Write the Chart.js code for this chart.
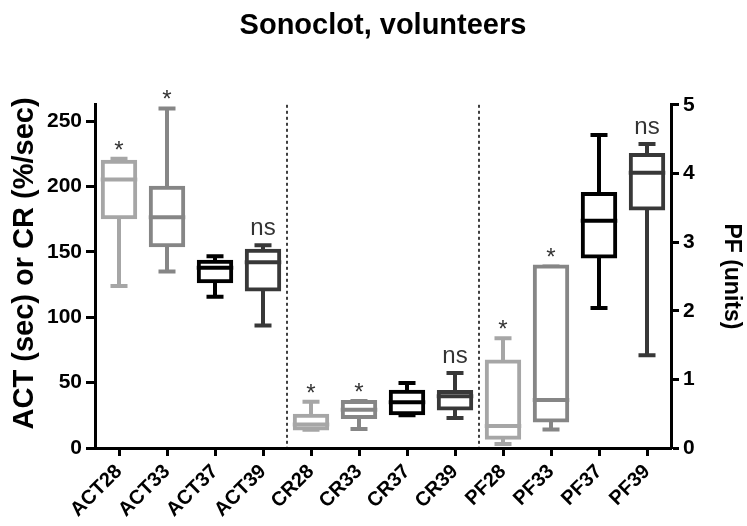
<!DOCTYPE html>
<html>
<head>
<meta charset="utf-8">
<script src="https://cdn.jsdelivr.net/npm/chart.js@4"></script>
<style>
html,body{margin:0;padding:0;background:#fff}
#wrap{width:747px;height:526px}
</style>
</head>
<body>
<div id="wrap"><canvas id="c" width="747" height="526"></canvas></div>
<script>
// ---- data ----
const categories  = ['ACT28','ACT33','ACT37','ACT39','CR28','CR33','CR37','CR39','PF28','PF33','PF37','PF39'];
const whiskerLow  = [124.0, 135.0, 115.6,  93.6, 14.0, 14.5, 25.0, 23.0, 0.06, 0.27, 2.04, 1.35];
const quartile1   = [176.5, 155.0, 127.5, 121.2, 15.0, 23.7, 26.5, 30.3, 0.15, 0.40, 2.79, 3.49];
const median      = [205.4, 176.5, 137.8, 142.1, 18.0, 29.3, 35.0, 39.5, 0.32, 0.70, 3.31, 4.01];
const quartile3   = [218.9, 199.0, 142.4, 150.8, 24.7, 35.2, 43.0, 42.9, 1.26, 2.645, 3.70, 4.27];
const whiskerHigh = [221.2, 259.7, 146.7, 155.1, 35.4, 36.0, 49.7, 57.4, 1.60, 2.645, 4.56, 4.43];
const significance = ['*','*','','ns','*','*','','ns','*','*','','ns'];
const boxColors = ['#a6a6a6','#868686','#000000','#383838',
                   '#a6a6a6','#868686','#000000','#383838',
                   '#a6a6a6','#868686','#000000','#383838'];
const leftAxisTitle  = 'ACT (sec) or CR (%/sec)';
const rightAxisTitle = 'PF (units)';
const chartTitle = 'Sonoclot, volunteers';

const groupOf = categories.map(c => c.replace(/\d+$/, ''));
const axisOf  = groupOf.map(g => g === 'PF' ? 'y2' : 'y');
const FONT = "'Liberation Sans', Arial, sans-serif";

Chart.defaults.font.family = FONT;
Chart.defaults.color = '#000';

const boxParts = {
  id: 'boxParts',
  beforeDatasetsDraw(chart) {
    const ctx = chart.ctx, xs = chart.scales.x;
    ctx.save();
    ctx.lineWidth = 4;
    ctx.lineCap = 'butt';
    categories.forEach((c, i) => {
      const ys = chart.scales[axisOf[i]];
      const x = xs.getPixelForValue(i);
      const pMin = ys.getPixelForValue(whiskerLow[i]);
      const pQ1 = ys.getPixelForValue(quartile1[i]);
      const pQ3 = ys.getPixelForValue(quartile3[i]);
      const pMax = ys.getPixelForValue(whiskerHigh[i]);
      ctx.strokeStyle = boxColors[i];
      ctx.beginPath();
      ctx.moveTo(x, pQ3); ctx.lineTo(x, pMax);
      ctx.moveTo(x, pQ1); ctx.lineTo(x, pMin);
      ctx.stroke();
      ctx.beginPath();
      ctx.moveTo(x - 8.5, pMax); ctx.lineTo(x + 8.5, pMax);
      ctx.moveTo(x - 8.5, pMin); ctx.lineTo(x + 8.5, pMin);
      ctx.stroke();
    });
    ctx.restore();
  },
  afterDatasetsDraw(chart) {
    const ctx = chart.ctx, xs = chart.scales.x, area = chart.chartArea;
    ctx.save();
    // medians
    ctx.lineWidth = 4;
    categories.forEach((c, i) => {
      const ys = chart.scales[axisOf[i]];
      const meta = chart.getDatasetMeta(axisOf[i] === 'y' ? 0 : 1);
      const bar = meta.data[i];
      const x = xs.getPixelForValue(i);
      const half = bar.width / 2 + 2;
      const pMed = ys.getPixelForValue(median[i]);
      ctx.strokeStyle = boxColors[i];
      ctx.beginPath();
      ctx.moveTo(x - half, pMed); ctx.lineTo(x + half, pMed);
      ctx.stroke();
    });
    // group separators
    ctx.strokeStyle = '#000';
    ctx.lineWidth = 1.5;
    ctx.setLineDash([3, 3]);
    for (let i = 1; i < categories.length; i++) {
      if (groupOf[i] !== groupOf[i - 1]) {
        const x = (xs.getPixelForValue(i - 1) + xs.getPixelForValue(i)) / 2;
        ctx.beginPath();
        ctx.moveTo(x, area.top); ctx.lineTo(x, area.bottom);
        ctx.stroke();
      }
    }
    ctx.setLineDash([]);
    // significance labels
    ctx.textAlign = 'center';
    ctx.textBaseline = 'alphabetic';
    ctx.fillStyle = '#333';
    ctx.font = '24px ' + FONT;
    categories.forEach((c, i) => {
      const s = significance[i];
      if (!s) return;
      const ys = chart.scales[axisOf[i]];
      const x = xs.getPixelForValue(i);
      const pMax = ys.getPixelForValue(whiskerHigh[i]);
      ctx.fillText(s, x, s === '*' ? pMax - 1 : pMax - 10);
    });
    ctx.restore();
  },
  afterDraw(chart) {
    // left axis title, placed slightly above the plot centre as in the reference
    const ctx = chart.ctx, area = chart.chartArea;
    ctx.save();
    ctx.translate(25, (area.top + area.bottom) / 2 - 13);
    ctx.rotate(-Math.PI / 2);
    ctx.font = 'bold 29px ' + FONT;
    ctx.fillStyle = '#000';
    ctx.textAlign = 'center';
    ctx.textBaseline = 'middle';
    ctx.fillText(leftAxisTitle, 0, 0);
    ctx.restore();
  }
};

const barCommon = {
  backgroundColor: '#ffffff',
  borderColor: boxColors,
  borderWidth: 4,
  borderSkipped: false,
  inflateAmount: 2,
  grouped: false,
  barPercentage: 0.676,
  categoryPercentage: 1
};

new Chart(document.getElementById('c'), {
  type: 'bar',
  data: {
    labels: categories,
    datasets: [
      Object.assign({
        label: 'ACT / CR',
        yAxisID: 'y',
        data: categories.map((c, i) => axisOf[i] === 'y' ? [quartile1[i], quartile3[i]] : null)
      }, barCommon),
      Object.assign({
        label: 'PF',
        yAxisID: 'y2',
        data: categories.map((c, i) => axisOf[i] === 'y2' ? [quartile1[i], quartile3[i]] : null)
      }, barCommon)
    ]
  },
  options: {
    responsive: false,
    animation: false,
    layout: { padding: 0 },
    plugins: {
      legend: { display: false },
      tooltip: { enabled: false },
      title: {
        display: true,
        text: chartTitle,
        fullSize: false,
        color: '#000',
        font: { size: 29, weight: 'bold' },
        padding: { top: 9, bottom: 61 }
      }
    },
    scales: {
      x: {
        type: 'category',
        offset: true,
        afterFit(s) { s.height = 78; },
        grid: { display: true, drawOnChartArea: false, drawTicks: true, tickLength: 8, tickWidth: 3, color: '#000', offset: false },
        border: { display: true, color: '#000', width: 3 },
        ticks: { autoSkip: false, minRotation: 45, maxRotation: 45, padding: 4, color: '#000', font: { size: 20, weight: 'bold' } }
      },
      y: {
        type: 'linear',
        position: 'left',
        min: 0,
        max: 262.5,
        bounds: 'data',
        afterFit(s) { s.width = 95; },
        grid: { drawOnChartArea: false, drawTicks: true, tickLength: 9, tickWidth: 3, color: '#000' },
        border: { display: true, color: '#000', width: 3 },
        ticks: { stepSize: 50, includeBounds: false, padding: 4, color: '#000', font: { size: 21, weight: 'bold' } },
        title: { display: false, text: leftAxisTitle }
      },
      y2: {
        type: 'linear',
        position: 'right',
        min: 0,
        max: 5,
        bounds: 'data',
        afterFit(s) { s.width = 76; },
        grid: { drawOnChartArea: false, drawTicks: true, tickLength: 8, tickWidth: 3, color: '#000' },
        border: { display: true, color: '#000', width: 3 },
        ticks: { stepSize: 1, padding: 4, color: '#000', font: { size: 21, weight: 'bold' } },
        title: { display: true, text: rightAxisTitle, color: '#000', font: { size: 23, weight: 'bold' }, padding: { top: 2, bottom: 0 } }
      }
    }
  },
  plugins: [boxParts]
});
</script>
</body>
</html>
